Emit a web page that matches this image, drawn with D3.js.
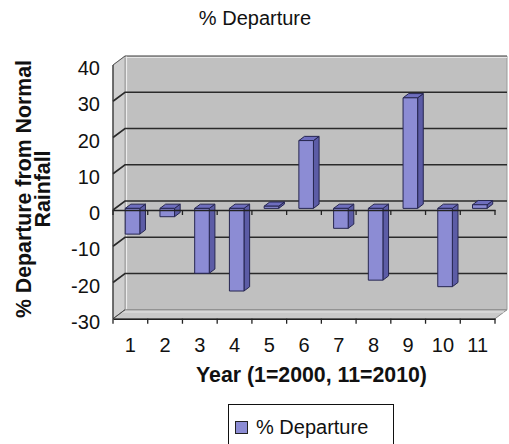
<!DOCTYPE html>
<html><head><meta charset="utf-8">
<script src="https://cdn.jsdelivr.net/npm/d3@7"></script>
<style>body{margin:0;background:#fff}svg{display:block;font-family:"Liberation Sans",Arial,sans-serif}</style>
</head><body><svg id="c" width="509" height="444"></svg>
<script>
const categories = ["1","2","3","4","5","6","7","8","9","10","11"];
const values = [-7.1,-2.3,-17.9,-22.8,0.6,18.7,-5.5,-19.8,30.5,-21.6,1.0];
const yTicks = [40,30,20,10,0,-10,-20,-30];
const title = "% Departure";
const seriesName = "% Departure";
const xTitle = "Year (1=2000, 11=2010)";
const yTitle = ["% Departure from Normal","Rainfall"];

const svg = d3.select("#c");
const x = d3.scaleBand().domain(categories).range([113,495]);
const y = d3.scaleLinear().domain([-30,40]).range([318.75,65]);
const DX = 12, DY = -9;
const P = (px,py,d) => [px + d*DX, py + d*DY];
const poly = pts => "M" + pts.map(p=>p.join(",")).join("L") + "Z";

const x0 = x.range()[0], x1 = x.range()[1];
const yTop = y(40), yBot = y(-30);
// back wall
svg.append("path").attr("d", poly([P(x0,yTop,1),P(x1,yTop,1),P(x1,yBot,1),P(x0,yBot,1)]))
  .attr("fill","#c0c0c0").attr("stroke","#9a9a9a").attr("stroke-width",1);
svg.append("line").attr("x1",P(x0,yTop,1)[0]).attr("y1",P(x0,yTop,1)[1]+1.5)
  .attr("x2",P(x1,yTop,1)[0]).attr("y2",P(x1,yTop,1)[1]+1.5).attr("stroke","#e6e6e6").attr("stroke-width",1);
// left wall
svg.append("path").attr("d", poly([P(x0,yTop,0),P(x0,yTop,1),P(x0,yBot,1),P(x0,yBot,0)]))
  .attr("fill","#cfcfcf").attr("stroke","#9a9a9a").attr("stroke-width",1);
svg.append("line").attr("x1",P(x0,yTop,1)[0]+1.5).attr("y1",P(x0,yTop,1)[1])
  .attr("x2",P(x0,yBot,1)[0]+1.5).attr("y2",P(x0,yBot,1)[1]).attr("stroke","#ececec").attr("stroke-width",1.2);
// floor
svg.append("path").attr("d", poly([P(x0,yBot,0),P(x1,yBot,0),P(x1,yBot,1),P(x0,yBot,1)]))
  .attr("fill","#c9c9c9").attr("stroke","#8a8a8a").attr("stroke-width",1);
svg.append("line").attr("x1",P(x0,yBot,0.75)[0]).attr("y1",P(x0,yBot,0.75)[1])
  .attr("x2",P(x1,yBot,0.75)[0]).attr("y2",P(x1,yBot,0.75)[1]).attr("stroke","#e4e4e4").attr("stroke-width",1);

// gridlines on back & left wall
yTicks.forEach(t=>{
  if (t===-30) return;
  const a=P(x0,y(t),0), b=P(x0,y(t),1), c=P(x1,y(t),1);
  svg.append("path").attr("d","M"+a+"L"+b+"L"+c).attr("fill","none")
    .attr("stroke","#2a2a2a").attr("stroke-width",t===40?0.6:1.6);
});
// left wall diagonal at bottom
svg.append("line").attr("x1",P(x0,yBot,0)[0]).attr("y1",P(x0,yBot,0)[1])
  .attr("x2",P(x0,yBot,1)[0]).attr("y2",P(x0,yBot,1)[1]).attr("stroke","#444").attr("stroke-width",1);

// bars
const dF = 0.18, dB = 0.65;
const bw = x.bandwidth()*0.42;
const g = svg.append("g");
categories.forEach((c,i)=>{
  const v = values[i];
  const cx = x(c) + x.bandwidth()/2;
  const L = cx - bw/2, R = cx + bw/2;
  const yt = y(Math.max(0,v)), yb = y(Math.min(0,v));
  const front = [P(L,yt,dF),P(R,yt,dF),P(R,yb,dF),P(L,yb,dF)];
  const side = [P(R,yt,dF),P(R,yt,dB),P(R,yb,dB),P(R,yb,dF)];
  const top = [P(L,yt,dF),P(R,yt,dF),P(R,yt,dB),P(L,yt,dB)];
  g.append("path").attr("d",poly(side)).attr("fill","#5c5ca6").attr("stroke","#262650").attr("stroke-width",1).attr("stroke-linejoin","round");
  g.append("path").attr("d",poly(top)).attr("fill","#6e6ebe").attr("stroke","#262650").attr("stroke-width",1).attr("stroke-linejoin","round");
  g.append("path").attr("d",poly(front)).attr("fill","#8c8cd4").attr("stroke","#262650").attr("stroke-width",1).attr("stroke-linejoin","round");
});

// left axis line
svg.append("line").attr("x1",x0).attr("y1",yTop).attr("x2",x0).attr("y2",yBot).attr("stroke","#333").attr("stroke-width",1.2);
// y tick labels
svg.append("g").selectAll("text").data(yTicks).join("text")
  .attr("x",100).attr("y",d=>y(d)+3).attr("text-anchor","end").attr("dominant-baseline","central")
  .attr("font-size",20).attr("fill","#111").text(d=>d);

// category axis at zero and at floor front edge
[0,-30].forEach(v=>{
  const ax = svg.append("g").attr("transform",`translate(0,${y(v)})`)
    .call(d3.axisBottom(x).tickSize(0).tickFormat(""));
  ax.select(".domain").attr("stroke","#222").attr("stroke-width",1.4);
  const bounds = categories.map(c=>x(c)).concat([x1]);
  ax.selectAll("line.b").data(bounds).join("line").attr("class","b")
    .attr("x1",d=>d).attr("x2",d=>d).attr("y1",0).attr("y2",5).attr("stroke","#222").attr("stroke-width",1.3);
});
// category labels
svg.append("g").selectAll("text").data(categories).join("text")
  .attr("x",d=>x(d)+x.bandwidth()/2).attr("y",352).attr("text-anchor","middle")
  .attr("font-size",20).attr("fill","#111").text(d=>d);

// titles
svg.append("text").attr("x",255).attr("y",25).attr("text-anchor","middle").attr("font-size",20).attr("fill","#111").text(title);
svg.append("text").attr("x",311.5).attr("y",382).attr("text-anchor","middle").attr("font-size",21.3).attr("font-weight","bold").attr("fill","#111").text(xTitle);
yTitle.forEach((t,i)=>{
  svg.append("text").attr("transform",`translate(${30.5+i*19.5},189) rotate(-90)`).attr("text-anchor","middle")
    .attr("font-size",21.3).attr("font-weight","bold").attr("fill","#111").text(t);
});

// legend
svg.append("rect").attr("x",228.5).attr("y",404.5).attr("width",165).attr("height",45).attr("fill","#fff").attr("stroke","#111").attr("stroke-width",1);
svg.append("rect").attr("x",235.5).attr("y",421.5).attr("width",12).attr("height",12).attr("fill","#8c8cd4").attr("stroke","#222").attr("stroke-width",1);
svg.append("text").attr("x",256).attr("y",434).attr("font-size",20).attr("fill","#111").text(seriesName);
</script></body></html>
